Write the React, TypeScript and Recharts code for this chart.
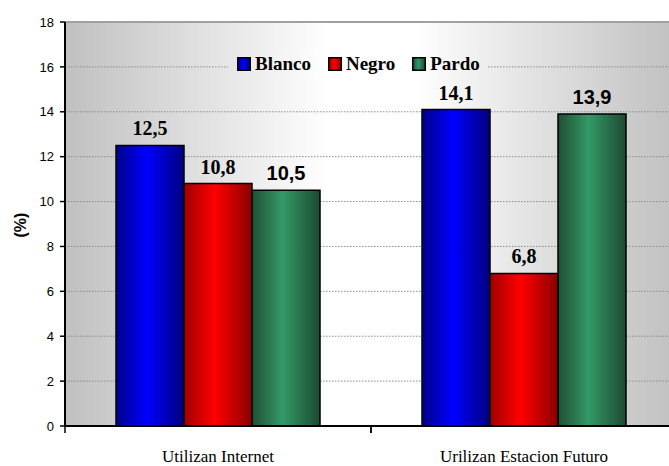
import React from 'react';
import { BarChart, Bar, XAxis, YAxis, CartesianGrid, ReferenceLine, LabelList, Label } from 'recharts';

const categories = ['Utilizan Internet', 'Urilizan Estacion Futuro'];
const seriesNames = ['Blanco', 'Negro', 'Pardo'];
const blanco = [12.5, 14.1];
const negro = [10.8, 6.8];
const pardo = [10.5, 13.9];
const yTicks = [0, 2, 4, 6, 8, 10, 12, 14, 16, 18];

const seriesValues: Record<string, number[]> = { Blanco: blanco, Negro: negro, Pardo: pardo };

const SERIF = "'Liberation Serif', 'Times New Roman', serif";
const SANS = "'Liberation Sans', Arial, sans-serif";

const styles: Record<string, { dark: string; light: string; dark2: string; font: string }> = {
  Blanco: { dark: '#000088', light: '#0000ff', dark2: '#000080', font: SERIF },
  Negro: { dark: '#a00000', light: '#ff0000', dark2: '#8a0000', font: SERIF },
  Pardo: { dark: '#1f4f35', light: '#339966', dark2: '#1c4a32', font: SANS },
};

const data = categories.map((name, i) => {
  const row: Record<string, string | number> = { name };
  seriesNames.forEach((s) => {
    row[s] = seriesValues[s][i];
  });
  return row;
});

const fmt = (v: any) => String(v).replace('.', ',');

const makeLabel = (font: string) => (props: any) => {
  const { x, y, width, value } = props;
  return (
    <text
      x={Number(x) + Number(width) / 2}
      y={Number(y) - 10}
      textAnchor="middle"
      fontFamily={font}
      fontWeight="bold"
      fontSize={20}
      fill="#000"
    >
      {fmt(value)}
    </text>
  );
};

const XTick = (props: any) => {
  const { x, y, payload } = props;
  const off = payload && typeof payload.offset === 'number' ? payload.offset : 153;
  const y0 = y - 24;
  return (
    <g>
      <line x1={x - off} x2={x - off} y1={y0} y2={y0 + 7} stroke="#000" strokeWidth={1.5} />
      <line x1={x + off} x2={x + off} y1={y0} y2={y0 + 7} stroke="#000" strokeWidth={1.5} />
      <text x={x} y={y} dy={12} textAnchor="middle" fontFamily={SERIF} fontSize={17} fill="#000">
        {payload.value}
      </text>
    </g>
  );
};

const YLabel = (props: any) => {
  const vb = props.viewBox || { x: 0, y: 22, width: 65, height: 404 };
  const cx = vb.x + 20;
  const cy = vb.y + vb.height / 2 + 1;
  return (
    <text
      x={cx}
      y={cy}
      transform={`rotate(-90 ${cx} ${cy})`}
      textAnchor="middle"
      dominantBaseline="central"
      fontFamily={SANS}
      fontWeight="bold"
      fontSize={16}
      fill="#000"
    >
      (%)
    </text>
  );
};

export default function App() {
  return (
    <div style={{ position: 'absolute', left: 0, top: 0, width: 669, height: 466, overflow: 'hidden', background: '#fff' }}>
      <BarChart
        width={690}
        height={466}
        data={data}
        margin={{ top: 22, right: 13, bottom: 10, left: 0 }}
        barCategoryGap="16.67%"
        barGap={0}
      >
        <defs>
          <linearGradient id="bgGrad" x1="0" y1="0" x2="1" y2="0">
            <stop offset="0" stopColor="#c0c0c0" />
            <stop offset="0.43" stopColor="#ffffff" />
            <stop offset="0.57" stopColor="#ffffff" />
            <stop offset="1" stopColor="#c0c0c0" />
          </linearGradient>
          {seriesNames.map((s) => (
            <linearGradient key={s} id={`grad${s}`} x1="0" y1="0" x2="1" y2="0">
              <stop offset="0" stopColor={styles[s].dark} />
              <stop offset="0.45" stopColor={styles[s].light} />
              <stop offset="1" stopColor={styles[s].dark2} />
            </linearGradient>
          ))}
        </defs>
        <CartesianGrid
          vertical={false}
          horizontal={true}
          stroke="#8c8c8c"
          strokeDasharray="1.5 1.5"
          fill="url(#bgGrad)"
          fillOpacity={1}
        />
        <ReferenceLine y={18} stroke="#a0a0a0" strokeWidth={2} />
        <XAxis
          dataKey="name"
          interval={0}
          height={30}
          tickSize={6}
          tickMargin={18}
          tickLine={false}
          axisLine={{ stroke: '#000', strokeWidth: 2 }}
          tick={<XTick />}
        />
        <YAxis
          width={65}
          domain={[0, 18]}
          ticks={yTicks}
          interval={0}
          tickSize={5}
          tickMargin={6}
          axisLine={{ stroke: '#000', strokeWidth: 2 }}
          tickLine={{ stroke: '#000', strokeWidth: 1.5 }}
          tick={{ fontFamily: SANS, fontSize: 13, fill: '#000' }}
        >
          <Label content={<YLabel />} />
        </YAxis>
        {seriesNames.map((s) => (
          <Bar
            key={s}
            dataKey={s}
            fill={`url(#grad${s})`}
            stroke="#000"
            strokeWidth={1.5}
            isAnimationActive={false}
          >
            <LabelList dataKey={s} content={makeLabel(styles[s].font)} />
          </Bar>
        ))}
      </BarChart>
      <div
        style={{
          position: 'absolute',
          left: 228,
          top: 52,
          width: 259,
          height: 24,
          background: 'linear-gradient(90deg, #e7e7e7 0%, #ffffff 38%, #ffffff 72%, #ededed 100%)',
          display: 'flex',
          alignItems: 'center',
          paddingLeft: 9,
          boxSizing: 'border-box',
        }}
      >
        {seriesNames.map((s, i) => (
          <div key={s} style={{ display: 'flex', alignItems: 'center', marginRight: i < seriesNames.length - 1 ? 17 : 0 }}>
            <svg width={14} height={14} style={{ display: 'block', marginRight: 4 }}>
              <defs>
                <linearGradient id={`lg${s}`} x1="0" y1="0" x2="1" y2="0">
                  <stop offset="0" stopColor={styles[s].dark} />
                  <stop offset="0.45" stopColor={styles[s].light} />
                  <stop offset="1" stopColor={styles[s].dark2} />
                </linearGradient>
              </defs>
              <rect x={0.75} y={0.75} width={12.5} height={12.5} fill={`url(#lg${s})`} stroke="#000" strokeWidth={1.5} />
            </svg>
            <span style={{ fontFamily: SERIF, fontWeight: 'bold', fontSize: 19, lineHeight: '24px', color: '#000' }}>{s}</span>
          </div>
        ))}
      </div>
    </div>
  );
}
